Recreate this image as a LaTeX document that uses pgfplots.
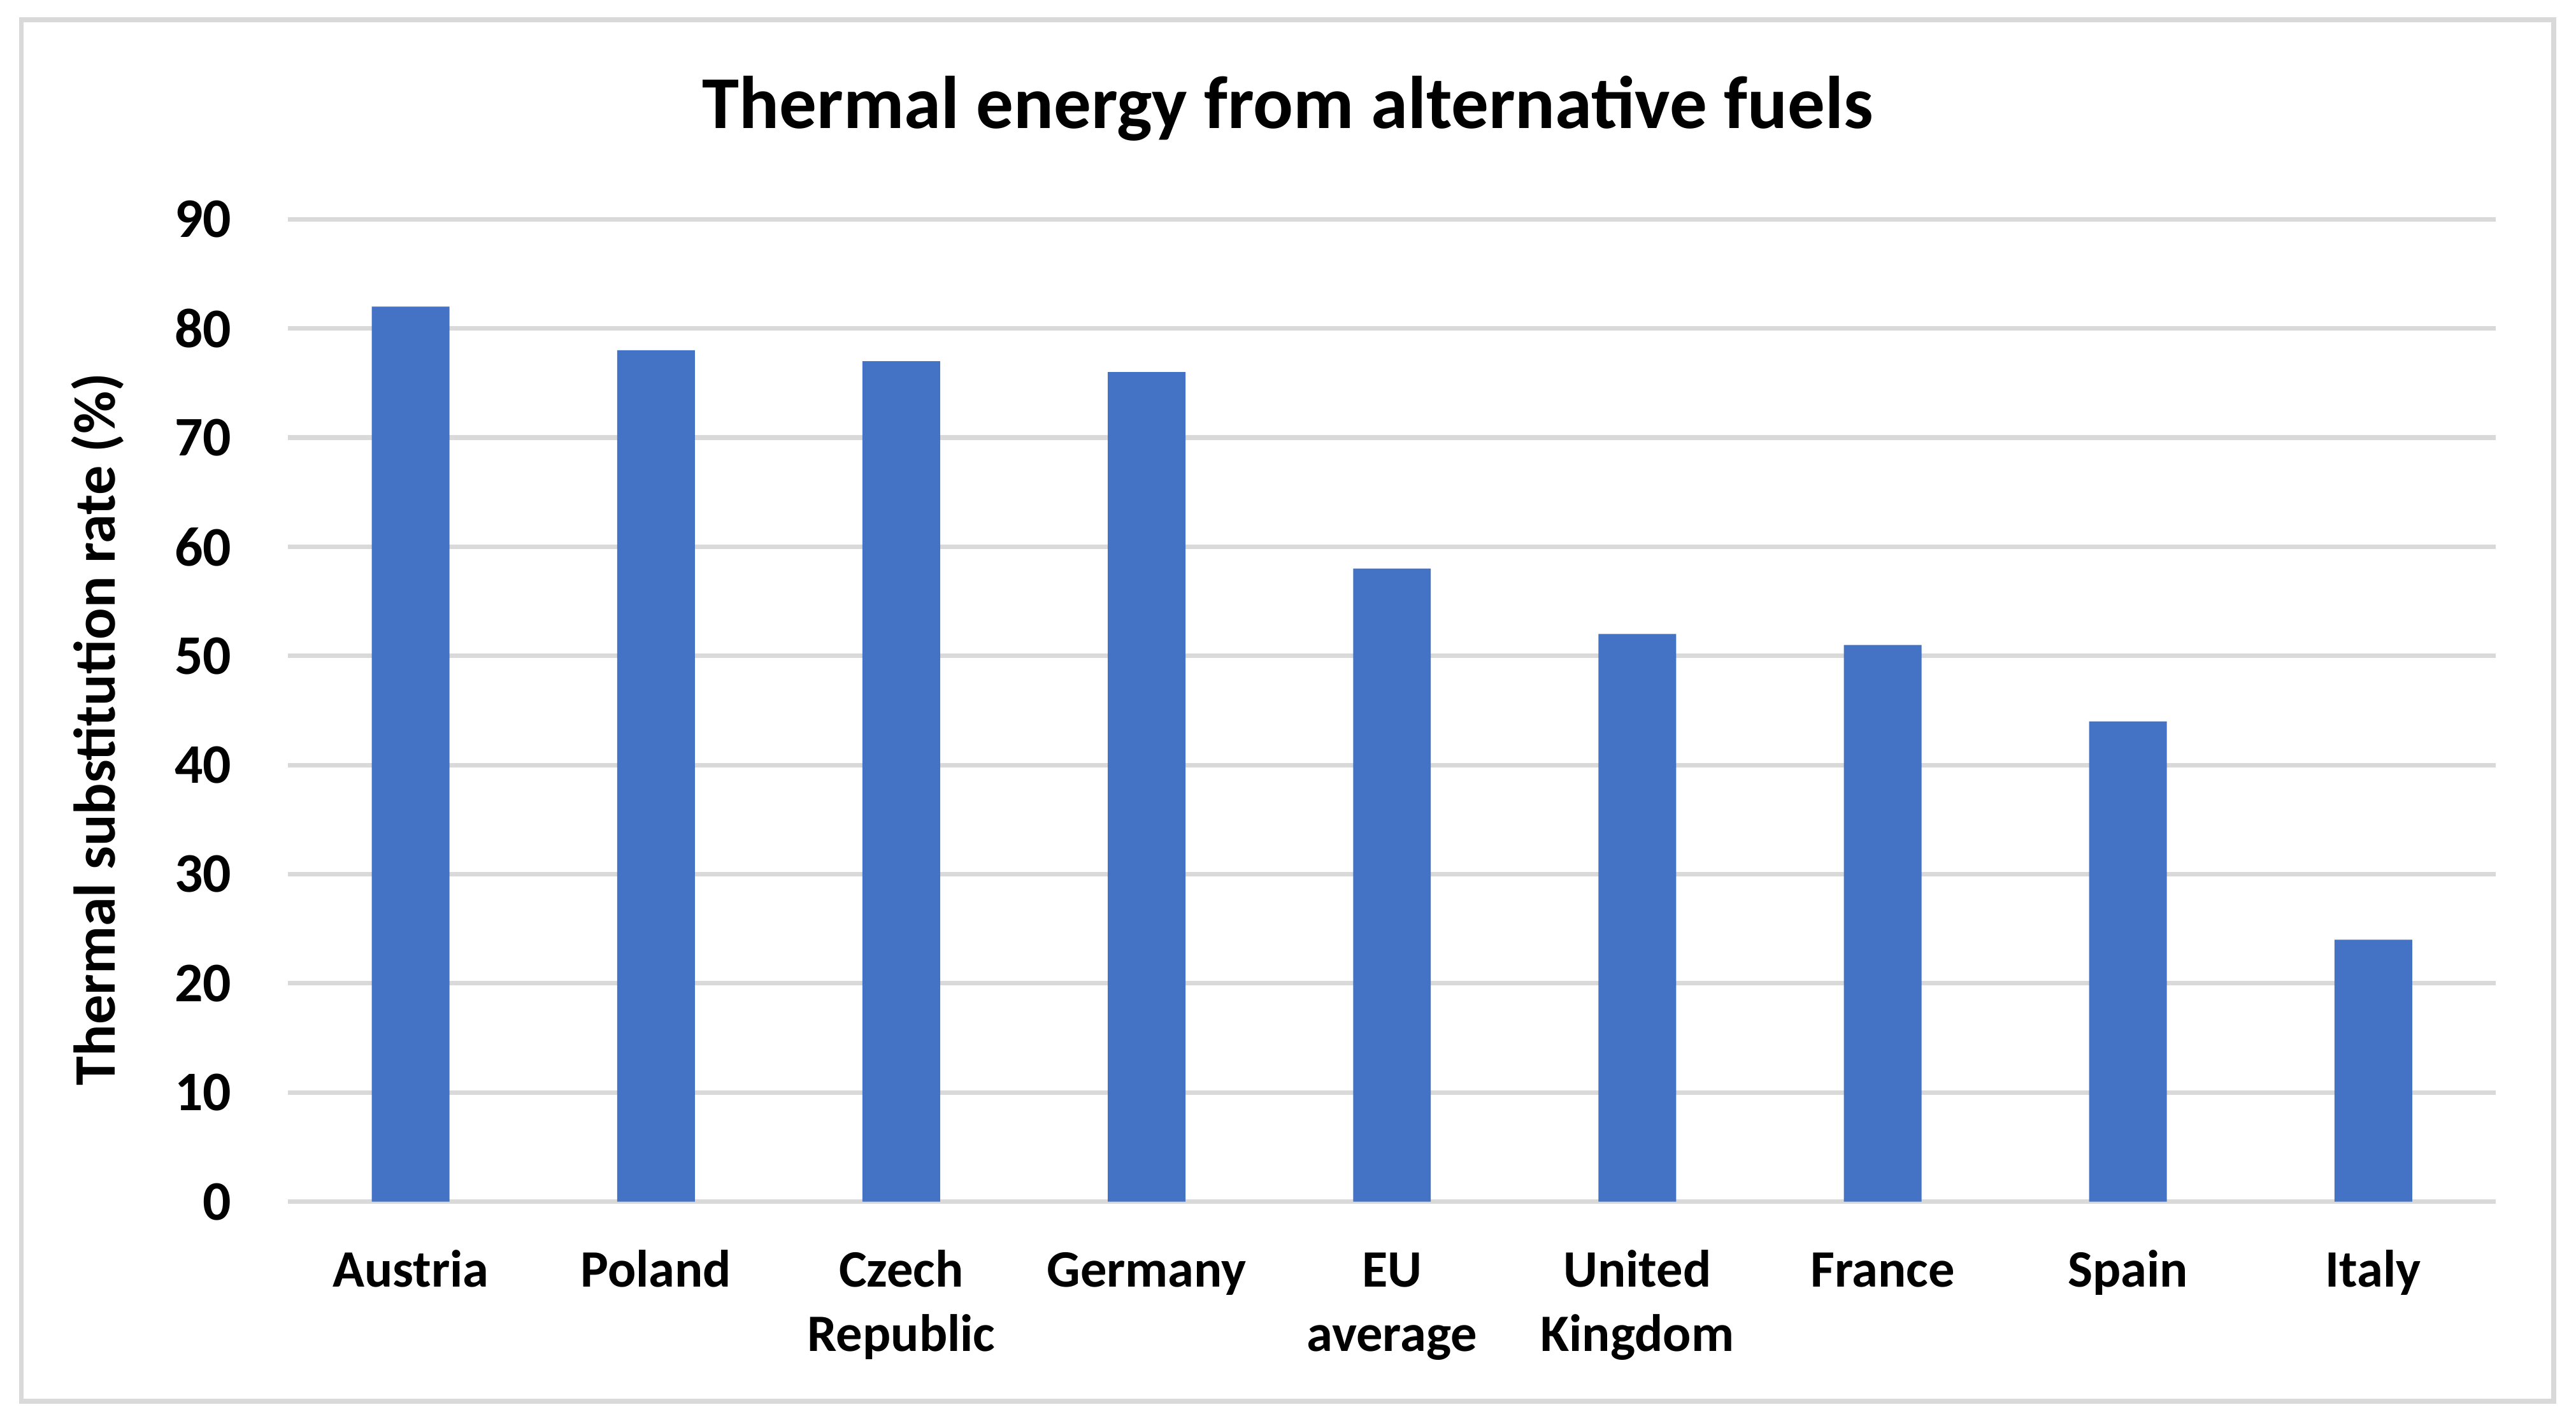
\documentclass[border=0pt]{standalone}
\usepackage{pgfplots}
\pgfplotsset{compat=1.18}
\usepackage{fontspec}
\setmainfont{Carlito}
\definecolor{barblue}{HTML}{4472C4}
\definecolor{gridgray}{HTML}{D9D9D9}
\newcommand\fl{\rule{0pt}{12pt}}
\begin{document}
\begin{tikzpicture}
\fill[white] (-87.65pt,-66.75pt) rectangle (696.35pt,365.75pt);
\useasboundingbox (-87.65pt,-66.75pt) rectangle (696.35pt,365.75pt);
\draw[gridgray, line width=1.5pt] (-81.15pt,-60.75pt) rectangle (689.6pt,359.75pt);
\begin{axis}[
  at={(0,0)}, anchor=south west,
  scale only axis, width=672pt, height=299pt,
  xmin=-0.5, xmax=8.5, ymin=0, ymax=90,
  clip=false,
  ytick={0,10,...,90},
  xtick={0,...,8},
  xticklabels={\fl Austria, \fl Poland, \fl Czech\\Republic, \fl Germany, \fl EU\\average, \fl United\\Kingdom, \fl France, \fl Spain, \fl Italy},
  x tick label style={align=center, font=\fontsize{16}{19.5}\selectfont\bfseries, anchor=north, inner sep=0pt, yshift=-13.75pt},
  y tick label style={font=\fontsize{17}{20}\selectfont\bfseries, anchor=east, inner sep=0pt, xshift=-17pt, /pgf/number format/assume math mode=true},
  axis line style={draw=none},
  major tick length=0pt,
  ymajorgrids,
  grid style={gridgray, line width=1.4pt},
  ylabel={Thermal substitution rate (\%)},
  every axis y label/.style={at={(axis description cs:0,0.4808)}, rotate=90, anchor=base, yshift=52.65pt, font=\fontsize{17.9}{21}\selectfont\bfseries, inner sep=0pt},
  title={Thermal energy from alternative fuels},
  every axis title/.style={at={(axis description cs:0.4529,1.0928)}, anchor=base, font=\fontsize{22.7}{26}\selectfont\bfseries, inner sep=0pt},
  ybar, bar width=23.65pt,
]
\addplot[fill=barblue, draw=none] coordinates {(0,82) (1,78) (2,77) (3,76) (4,58) (5,52) (6,51) (7,44) (8,24)};
\end{axis}
\end{tikzpicture}
\end{document}
